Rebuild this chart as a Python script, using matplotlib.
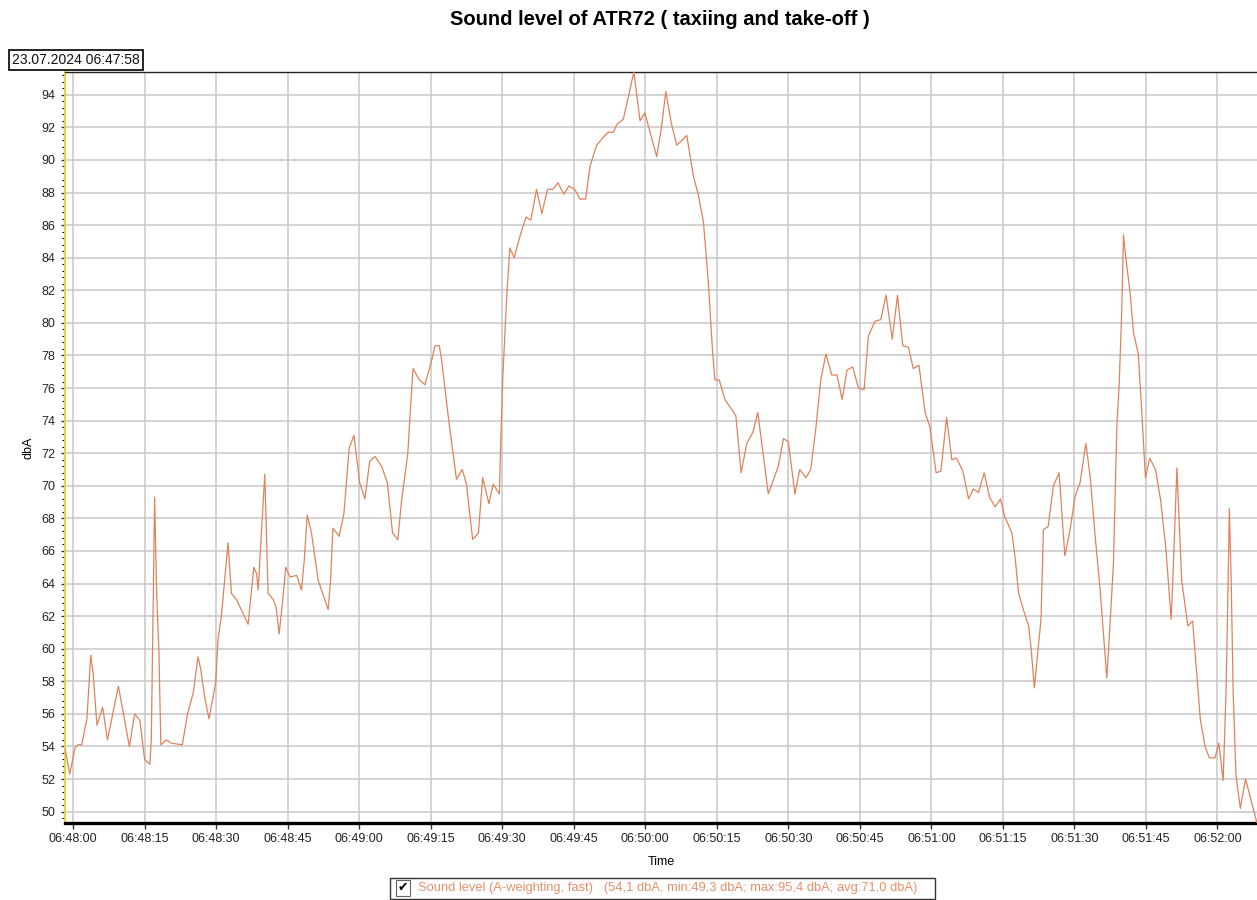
import matplotlib
matplotlib.use("Agg")
from matplotlib import pyplot as plt
from matplotlib import dates as mdates
from matplotlib.ticker import MultipleLocator, AutoMinorLocator
from matplotlib.patches import Rectangle
import numpy as np
import pandas as pd

# measurement start and sample times (seconds after 06:48:00)
start_label = "23.07.2024 06:47:58"
t0 = pd.Timestamp("2024-07-23 06:48:00")
seconds = [
    -1.7, -0.7, 0.4, 1.0, 1.8, 2.9, 3.7, 4.2, 5.0, 6.2, 7.2, 9.5, 11.8, 12.9, 14.0,
    15.0, 16.1, 16.4, 17.1, 17.5, 18.0, 18.4, 19.6, 20.6, 22.9, 24.0, 25.2, 26.2,
    26.8, 27.6, 28.5, 29.4, 29.9, 30.4, 31.1, 32.5, 33.2, 34.3, 36.7, 37.9, 38.5,
    38.8, 40.2, 40.9, 42.0, 42.6, 43.2, 43.9, 44.6, 45.5, 46.9, 47.9, 48.5, 49.1,
    50.0, 51.4, 53.5, 54.0, 54.5, 55.8, 56.8, 57.9, 58.9, 60.1, 61.2, 62.2, 63.3,
    64.7, 65.9, 67.0, 68.1, 68.9, 70.2, 70.6, 71.3, 72.6, 73.8, 75.2, 75.9, 76.8,
    77.3, 78.7, 80.4, 81.6, 82.5, 83.8, 85.0, 85.9, 87.2, 88.1, 89.4, 89.7, 90.1,
    90.5, 90.9, 91.6, 92.5, 93.7, 95.0, 96.0, 97.2, 98.3, 99.5, 100.6, 101.7,
    102.9, 104.0, 105.2, 106.3, 107.5, 108.4, 109.8, 111.2, 112.2, 113.3, 114.1,
    115.4, 116.4, 117.6, 118.9, 119.9, 122.4, 123.4, 124.3, 125.5, 126.6, 128.7,
    130.1, 131.1, 132.2, 133.2, 134.1, 134.6, 135.5, 136.7, 139.0, 140.1, 141.3,
    142.6, 143.6, 145.8, 147.9, 149.0, 150.0, 151.4, 152.4, 153.7, 154.7, 155.8,
    156.8, 157.9, 159.1, 160.2, 161.3, 162.3, 163.5, 164.7, 165.9, 166.8, 168.2,
    169.4, 170.5, 171.8, 172.9, 174.0, 175.2, 176.2, 177.4, 178.7, 179.7, 181.0,
    182.0, 183.2, 184.3, 185.3, 186.6, 187.8, 188.8, 189.9, 191.1, 192.2, 193.4,
    194.5, 195.4, 196.9, 197.6, 198.3, 199.4, 200.4, 200.9, 201.6, 202.5, 203.0,
    203.5, 204.5, 205.6, 206.8, 208.0, 209.1, 210.1, 211.2, 212.4, 213.3, 214.3,
    215.4, 216.8, 217.5, 218.2, 218.9, 219.4, 219.9, 220.3, 220.6, 221.7, 222.4,
    223.4, 224.2, 224.9, 225.8, 227.0, 228.1, 229.2, 230.3, 230.7, 231.5, 231.9,
    232.5, 233.8, 234.8, 236.4, 237.4, 238.3, 239.5, 240.3, 241.2, 241.8, 242.2,
    242.5, 242.9, 243.3, 243.9, 244.8, 245.9, 248.3,
]
# A-weighted sound level, fast (dBA)
level_dba = [
    53.9, 52.3, 53.9, 54.1, 54.1, 55.7, 59.6, 58.5, 55.3, 56.4, 54.4, 57.7, 54.0, 56.0, 55.6,
    53.2, 52.9, 54.4, 69.3, 63.6, 59.8, 54.1, 54.4, 54.2, 54.1, 56.0, 57.3, 59.5,
    58.7, 57.0, 55.7, 57.1, 57.9, 60.6, 62.0, 66.5, 63.4, 63.0, 61.5, 65.0, 64.6,
    63.6, 70.7, 63.4, 63.0, 62.5, 60.9, 62.8, 65.0, 64.4, 64.5, 63.6, 65.5, 68.2,
    67.1, 64.2, 62.4, 64.2, 67.4, 66.9, 68.3, 72.3, 73.1, 70.2, 69.2, 71.5, 71.8,
    71.2, 70.2, 67.1, 66.7, 69.1, 72.0, 74.0, 77.2, 76.5, 76.2, 77.7, 78.6, 78.6,
    77.7, 74.2, 70.4, 71.0, 70.1, 66.7, 67.1, 70.5, 68.9, 70.1, 69.5, 72.8, 76.5,
    79.0, 81.4, 84.6, 84.0, 85.3, 86.5, 86.3, 88.2, 86.7, 88.2, 88.2, 88.6,
    87.9, 88.4, 88.2, 87.6, 87.6, 89.6, 90.9, 91.4, 91.7, 91.7, 92.2,
    92.5, 93.8, 95.4, 92.4, 92.9, 90.2, 92.0, 94.2, 92.2, 90.9, 91.5,
    89.0, 87.9, 86.2, 82.6, 78.3, 76.5, 76.5, 75.3, 74.3, 70.8, 72.6,
    73.3, 74.5, 69.5, 71.2, 72.9, 72.7, 69.5, 71.0, 70.5, 71.0, 73.6,
    76.5, 78.1, 76.8, 76.8, 75.3, 77.1, 77.3, 76.0, 75.9, 79.2, 80.1,
    80.2, 81.7, 79.0, 81.7, 78.6, 78.5, 77.2, 77.4, 74.5, 73.6, 70.8,
    70.9, 74.2, 71.6, 71.7, 70.9, 69.2, 69.8, 69.6, 70.8, 69.3, 68.7,
    69.2, 68.1, 67.1, 65.5, 63.4, 62.3, 61.4, 60.1, 57.6, 60.3, 61.8,
    67.3, 67.5, 70.0, 70.8, 65.7, 67.3, 69.3, 70.2, 72.6, 70.6, 67.1,
    63.6, 58.2, 61.6, 65.3, 73.6, 76.3, 80.4, 85.4, 84.5, 81.8, 79.4,
    78.1, 74.2, 70.5, 71.7, 71.0, 69.1, 66.1, 61.8, 64.6, 71.1, 68.4,
    64.2, 61.4, 61.7, 55.7, 54.0, 53.3, 53.3, 54.2, 51.9, 57.3, 63.4,
    68.6, 64.0, 57.3, 52.2, 50.2, 52.0, 49.3,
]
series_label = ("Sound level (A-weighting, fast)   "
                "(54,1 dbA, min:49,3 dbA; max:95,4 dbA; avg:71,0 dbA)")

times = (t0 + pd.to_timedelta(seconds, unit="s")).to_numpy()
levels = np.array(level_dba)

plt.rcParams["font.family"] = ["Liberation Sans", "DejaVu Sans"]
line_color = "#E0825A"

fig = plt.figure(figsize=(12.57, 9.0), dpi=100)
ax = fig.add_axes([65 / 1257, 1 - 823 / 900, 1192 / 1257, 751 / 900])

ax.plot(times, levels, color=line_color, lw=0.9, zorder=3)

ax.set_xlim(times[0], times[-1])
ax.set_ylim(levels.min(), levels.max())

# axis ticks
ax.xaxis.set_major_locator(mdates.SecondLocator(bysecond=[0, 15, 30, 45]))
ax.xaxis.set_major_formatter(mdates.DateFormatter("%H:%M:%S"))
ax.yaxis.set_major_locator(MultipleLocator(2))
ax.yaxis.set_minor_locator(AutoMinorLocator(5))
ax.tick_params(axis="both", labelsize=9, labelcolor="#222222", color="#333333")
ax.tick_params(axis="x", length=4, width=1, pad=3)
ax.tick_params(axis="y", which="major", length=3, width=1, pad=4)
ax.tick_params(axis="y", which="minor", length=2, width=0.8)

ax.grid(True, which="major", color="#C8C8C8", lw=1.1, zorder=0)
ax.set_axisbelow(True)

# frame
ax.spines["right"].set_visible(False)
ax.spines["top"].set_color("#222222")
ax.spines["top"].set_linewidth(1.0)
ax.spines["bottom"].set_color("black")
ax.spines["bottom"].set_linewidth(2.4)
ax.spines["left"].set_color("#E2D53C")
ax.spines["left"].set_linewidth(1.4)

ax.set_xlabel("Time", fontsize=9, labelpad=8)
ax.set_ylabel("dbA", fontsize=9, labelpad=5)

fig.text(0.525, 0.978, "Sound level of ATR72 ( taxiing and take-off )",
         ha="center", va="center", fontsize=14.5, fontweight="bold")

fig.text(12 / 1257, 1 - 60 / 900, start_label, ha="left", va="center",
         fontsize=10, color="#111111",
         bbox=dict(boxstyle="square,pad=0.25", fc="white", ec="black", lw=1.2))

# series box with check mark under the time axis
fig.patches.append(Rectangle((390 / 1257, 1 - 899 / 900), 545 / 1257, 21 / 900,
                             transform=fig.transFigure, fill=False,
                             ec="#333333", lw=1.0))
fig.text(403 / 1257, 1 - 888 / 900, "✔", ha="center", va="center",
         fontsize=9, family="DejaVu Sans", color="black",
         bbox=dict(boxstyle="square,pad=0.15", fc="white", ec="#666666", lw=0.8))
fig.text(418 / 1257, 1 - 888 / 900, series_label, ha="left", va="center",
         fontsize=9.3, color="#E8906A")

fig.savefig("out.png", dpi=100)
